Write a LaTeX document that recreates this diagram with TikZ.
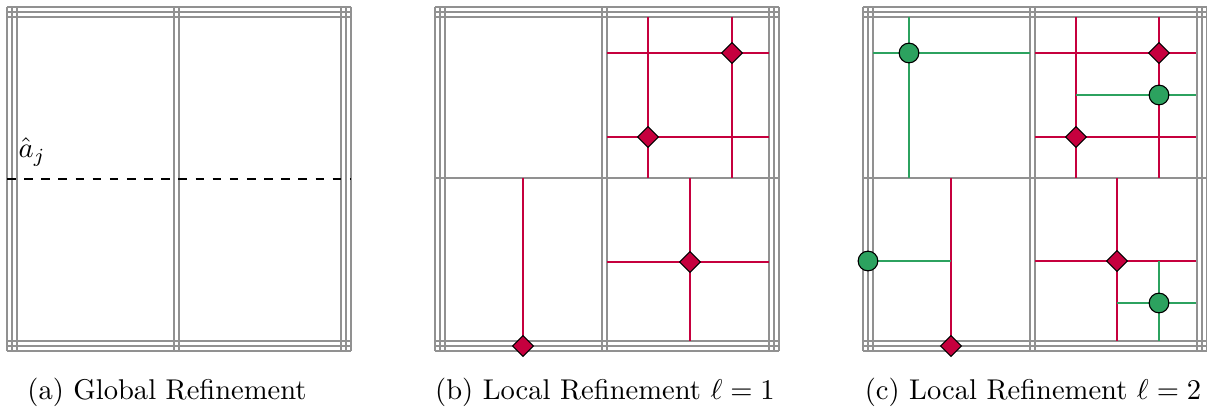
\documentclass[tikz,border=0pt]{standalone}
\usetikzlibrary{shapes.geometric}
\definecolor{gridgray}{RGB}{145,145,145}
\definecolor{refred}{RGB}{198,0,62}
\definecolor{refgreen}{RGB}{44,162,95}
\tikzset{
  gridline/.style={draw=gridgray, line width=0.4pt},
  redline/.style={draw=refred, line width=0.8pt},
  greenline/.style={draw=refgreen, line width=0.8pt},
  dmark/.style={diamond, draw=black, line width=0.4pt, fill=refred, inner sep=0pt, minimum size=7.4pt},
  cmark/.style={circle, draw=black, line width=0.4pt, fill=refgreen, inner sep=0pt, minimum size=6.9pt},
  caption/.style={anchor=base, inner sep=0pt, font=\normalsize}
}
\newcommand{\knotgrid}[1]{%
  \foreach \xx in {7,12,17,174,179,341,346,351}{\draw[gridline] (\xx,7) -- (\xx,351);}
  \foreach \yy in {7,12,17,341,346,351}{\draw[gridline] (7,\yy) -- (351,\yy);}
  \ifnum#1=1 \draw[gridline] (7,178) -- (351,178);\fi
}
\begin{document}
\begin{tikzpicture}[x=0.35pt, y=-0.35pt]
\useasboundingbox (0,0) rectangle (1207,412);
% ---------- panel (a)
\begin{scope}
  \knotgrid{0}
  \coordinate (aL) at (7,179);
  \coordinate (aR) at (351,179);
  \draw[black, line width=0.45pt, dashed] (aL) -- (aR);
  \node[anchor=base west, inner sep=0pt] (alab) at (18,158) {$\hat{a}_j$};
\end{scope}
% ---------- panel (b)
\begin{scope}[shift={(428,0)}]
  \knotgrid{1}
  \draw[redline] (220,17) -- (220,178);
  \draw[redline] (304,17) -- (304,178);
  \draw[redline] (179,53) -- (341,53);
  \draw[redline] (179,137) -- (341,137);
  \draw[redline] (95,178) -- (95,346);
  \draw[redline] (262,178) -- (262,341);
  \draw[redline] (179,262) -- (341,262);
  \node[dmark] (b1) at (304,53) {};
  \node[dmark] (b2) at (220,137) {};
  \node[dmark] (b3) at (95,346) {};
  \node[dmark] (b4) at (262,262) {};
\end{scope}
% ---------- panel (c)
\begin{scope}[shift={(856,0)}]
  \knotgrid{1}
  \draw[redline] (220,17) -- (220,178);
  \draw[redline] (303,17) -- (303,178);
  \draw[redline] (179,53) -- (340,53);
  \draw[redline] (179,137) -- (340,137);
  \draw[redline] (95,178) -- (95,346);
  \draw[redline] (261,178) -- (261,341);
  \draw[redline] (179,261) -- (340,261);
  \draw[greenline] (53,17) -- (53,178);
  \draw[greenline] (17,53) -- (174,53);
  \draw[greenline] (220,95) -- (340,95);
  \draw[greenline] (12,261) -- (95,261);
  \draw[greenline] (303,261) -- (303,341);
  \draw[greenline] (261,303) -- (340,303);
  \node[dmark] (c1) at (303,53) {};
  \node[dmark] (c2) at (220,137) {};
  \node[dmark] (c3) at (95,346) {};
  \node[dmark] (c4) at (261,261) {};
  \node[cmark] (g1) at (53,53) {};
  \node[cmark] (g2) at (303,95) {};
  \node[cmark] (g3) at (12,261) {};
  \node[cmark] (g4) at (303,303) {};
\end{scope}
% ---------- captions
\node[caption] (capa) at (167,400) {(a) Global Refinement};
\node[caption] (capb) at (605,400) {(b) Local Refinement $\ell=1$};
\node[caption] (capc) at (1033,400) {(c) Local Refinement $\ell=2$};
\end{tikzpicture}
\end{document}
